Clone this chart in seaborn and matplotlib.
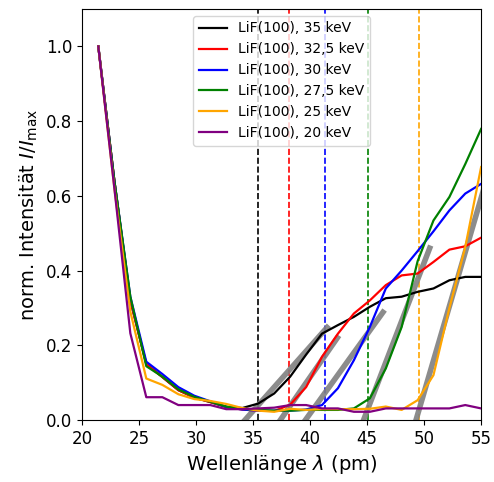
import matplotlib
matplotlib.use("Agg")
import matplotlib.pyplot as plt
import seaborn as sns
import pandas as pd

wavelength = [21.43, 22.84, 24.24, 25.64, 27.05, 28.45, 29.85, 31.25, 32.65, 34.06,
              35.46, 36.86, 38.26, 39.66, 41.05, 42.45, 43.85, 45.25, 46.65, 48.04,
              49.44, 50.83, 52.23, 53.62, 55.01]

i_35 = [1.0, 0.64, 0.32, 0.15, 0.115, 0.08, 0.06, 0.048, 0.035, 0.032,
        0.044, 0.071, 0.116, 0.175, 0.231, 0.254, 0.276, 0.303, 0.326, 0.33,
        0.343, 0.352, 0.374, 0.383, 0.383]
i_325 = [1.0, 0.64, 0.32, 0.15, 0.115, 0.08, 0.06, 0.048, 0.035, 0.028,
         0.025, 0.024, 0.041, 0.088, 0.169, 0.231, 0.285, 0.32, 0.361, 0.387,
         0.392, 0.423, 0.456, 0.465, 0.488]
i_30 = [1.0, 0.64, 0.33, 0.156, 0.123, 0.088, 0.065, 0.05, 0.035, 0.028,
        0.025, 0.025, 0.025, 0.028, 0.04, 0.085, 0.16, 0.249, 0.352, 0.40,
        0.452, 0.505, 0.561, 0.606, 0.632]
i_275 = [1.0, 0.64, 0.33, 0.144, 0.116, 0.082, 0.062, 0.049, 0.036, 0.03,
         0.027, 0.025, 0.025, 0.027, 0.027, 0.027, 0.031, 0.058, 0.138, 0.249,
         0.425, 0.534, 0.597, 0.685, 0.779]
i_25 = [1.0, 0.62, 0.29, 0.111, 0.094, 0.069, 0.056, 0.051, 0.043, 0.032,
        0.025, 0.022, 0.03, 0.027, 0.029, 0.029, 0.029, 0.03, 0.036, 0.027,
        0.053, 0.12, 0.30, 0.463, 0.677]
i_20 = [1.0, 0.62, 0.232, 0.061, 0.061, 0.04, 0.04, 0.04, 0.029, 0.029,
        0.031, 0.033, 0.04, 0.04, 0.031, 0.031, 0.022, 0.022, 0.031, 0.031,
        0.031, 0.031, 0.031, 0.04, 0.031]

labels = ["LiF(100), 35 keV", "LiF(100), 32,5 keV", "LiF(100), 30 keV",
          "LiF(100), 27,5 keV", "LiF(100), 25 keV", "LiF(100), 20 keV"]
colors = ["black", "red", "blue", "green", "orange", "purple"]
series = [i_35, i_325, i_30, i_275, i_25, i_20]

# Duane-Hunt limits (pm)
lambda_min = [35.42, 38.15, 41.33, 45.09, 49.59, 61.99]

# linear fits: start (x-intercept), end wavelength, slope
fit_start = [34.3, 37.4, 39.6, 44.7, 49.3]
fit_end = [41.5, 42.4, 46.4, 50.5, 56.0]
fit_slope = [0.0344, 0.044, 0.0424, 0.0793, 0.104]

rows = []
for lab, vals in zip(labels, series):
    for x, y in zip(wavelength, vals):
        rows.append({"lam": x, "I": y, "series": lab})
df = pd.DataFrame(rows)

fits = []
for k, (a, b, m) in enumerate(zip(fit_start, fit_end, fit_slope)):
    fits.append({"lam": a, "I": 0.0, "fit": k})
    fits.append({"lam": b, "I": m * (b - a), "fit": k})
df_fit = pd.DataFrame(fits)

fig = plt.figure(figsize=(4.94, 4.82), dpi=100)
ax = fig.add_axes([82 / 494, 62 / 482, 399 / 494, 411 / 482])

for xv, c in zip(lambda_min, colors):
    ax.axvline(xv, color=c, ls="--", lw=1.2, zorder=1)

sns.lineplot(data=df_fit, x="lam", y="I", units="fit", estimator=None,
             color="gray", lw=4, alpha=0.9, ax=ax, legend=False, zorder=2)

sns.lineplot(data=df, x="lam", y="I", hue="series", hue_order=labels,
             palette=dict(zip(labels, colors)), estimator=None, sort=False,
             lw=1.6, ax=ax, zorder=3)

ax.set_xlim(20, 55)
ax.set_ylim(0, 1.1)
ax.set_xticks([20, 25, 30, 35, 40, 45, 50, 55])
ax.set_yticks([0.0, 0.2, 0.4, 0.6, 0.8, 1.0])
ax.tick_params(labelsize=12)
ax.set_xlabel(r"Wellenlänge $\lambda$ (pm)", fontsize=14)
ax.set_ylabel(r"norm. Intensität $I/I_\mathrm{max}$", fontsize=14)
ax.legend(loc="upper center", fontsize=10)

fig.savefig("out.png", dpi=100)
